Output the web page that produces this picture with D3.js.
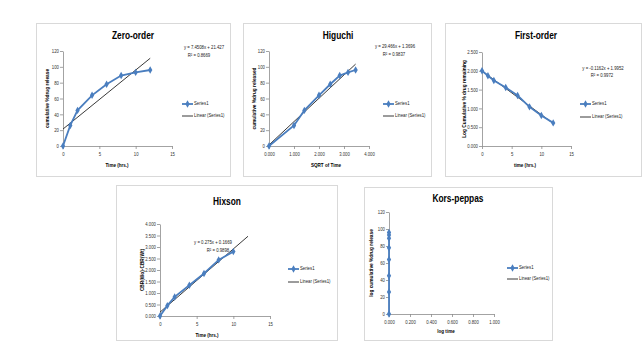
<!DOCTYPE html>
<html>
<head>
<meta charset="utf-8">
<script src="https://cdn.jsdelivr.net/npm/d3@7"></script>
<style>
  body { margin: 0; background: #fff; }
  svg { display: block; font-family: "Liberation Sans", Arial, sans-serif; }
</style>
</head>
<body>
<svg id="chart" width="642" height="351"></svg>
<script>
// data
const timeHrs = [0, 1, 2, 4, 6, 8, 10, 12];
const releasePct = [0, 26, 45, 64, 78, 89, 93, 96];
const sqrtTime = [0, 1, 1.414, 2, 2.449, 2.828, 3.162, 3.464];
const logRemaining = [2.000, 1.870, 1.740, 1.556, 1.342, 1.041, 0.810, 0.615];
const hixsonTime = [0, 1, 2, 4, 6, 8, 10];
const hixsonCbr = [0, 0.45, 0.83, 1.34, 1.85, 2.44, 2.80];
const logTime = [0, 0, 0, 0, 0, 0, 0, 0];
const korsRelease = [0, 26, 45, 64, 78, 89, 93, 96];

// trend lines as printed: [slope, intercept, x end]
const zeroFit = [7.4508, 21.427, 12];
const higuchiFit = [29.466, 1.3696, 3.464];
const firstFit = [-0.1162, 1.9952, 12];
const hixsonFit = [0.275, 0.1669, 12];

const ticksPct = [0, 20, 40, 60, 80, 100, 120];
const ticksTime = [0, 5, 10, 15];
const ticksSqrt = [0, 1, 2, 3, 4];
const ticksLog = [0, 0.5, 1, 1.5, 2, 2.5];
const ticksHix = [0, 0.5, 1, 1.5, 2, 2.5, 3, 3.5, 4];
const ticksLogTime = [0, 0.2, 0.4, 0.6, 0.8, 1];

const svg = d3.select('#chart');
const blue = '#4a7ebf';
const narrow = 0.78; // squeeze Liberation Sans toward Calibri widths

// text squeezed horizontally, like the narrow office font
function label(g, x, y, s, size, opts) {
    opts = opts || {};
    const rot = opts.rotate ? ' rotate(-90)' : '';
    return g.append('text')
        .attr('transform', `translate(${x},${y})${rot} scale(${opts.sx || narrow},1)`)
        .attr('text-anchor', opts.anchor || 'middle')
        .attr('dominant-baseline', 'middle')
        .attr('font-size', size)
        .attr('font-weight', opts.bold ? 'bold' : 'normal')
        .attr('fill', opts.fill || '#222')
        .text(s);
}

function panel(cfg) {
    const g = svg.append('g');

    g.append('rect')
        .attr('x', cfg.box[0] + 0.5).attr('y', cfg.box[1] + 0.5)
        .attr('width', cfg.box[2] - cfg.box[0]).attr('height', cfg.box[3] - cfg.box[1])
        .attr('fill', '#fff').attr('stroke', '#d9d9d9');

    const xs = d3.scaleLinear().domain(d3.extent(cfg.xticks)).range(cfg.xr);
    const ys = d3.scaleLinear().domain(d3.extent(cfg.yticks)).range(cfg.yr);

    const xaxis = d3.axisBottom(xs).tickValues(cfg.xticks).tickFormat(cfg.xfmt)
        .tickSizeInner(3).tickSizeOuter(0).tickPadding(3);
    const yaxis = d3.axisLeft(ys).tickValues(cfg.yticks).tickFormat(cfg.yfmt)
        .tickSizeInner(3).tickSizeOuter(0).tickPadding(2);

    const xg = g.append('g').attr('transform', `translate(0,${cfg.yr[0]})`).call(xaxis);
    const yg = g.append('g').attr('transform', `translate(${cfg.xr[0]},0)`).call(yaxis);
    [xg, yg].forEach(a => {
        a.selectAll('path, line').attr('stroke', '#8c8c8c').attr('stroke-width', 0.8);
        a.selectAll('text').attr('font-size', 5.2).attr('fill', '#333')
            .attr('font-family', 'inherit')
            .attr('transform', 'scale(0.82,1)');
    });

    if (cfg.fit) {
        const f = cfg.fit;
        g.append('line')
            .attr('x1', xs(0)).attr('y1', ys(f[1]))
            .attr('x2', xs(f[2])).attr('y2', ys(f[0] * f[2] + f[1]))
            .attr('stroke', '#222').attr('stroke-width', 0.9);
    }

    const pts = cfg.x.map((v, i) => [v, cfg.y[i]]);
    g.append('path')
        .attr('d', d3.line().x(d => xs(d[0])).y(d => ys(d[1]))(pts))
        .attr('fill', 'none').attr('stroke', blue).attr('stroke-width', 1.8);
    g.selectAll('path.mk').data(pts).join('path')
        .attr('class', 'mk')
        .attr('d', d3.symbol(d3.symbolDiamond, 16))
        .attr('transform', d => `translate(${xs(d[0])},${ys(d[1])})`)
        .attr('fill', blue);

    label(g, cfg.title[1], cfg.title[2], cfg.title[0], 11, { bold: true, fill: '#000', sx: 0.76 });

    const ymid = (cfg.yr[0] + cfg.yr[1]) / 2;
    label(g, cfg.ylab[1], ymid, cfg.ylab[0], 6, { bold: true, fill: '#000', rotate: true, sx: 0.8 });
    label(g, cfg.xlab[1], cfg.xlab[2], cfg.xlab[0], 6, { bold: true, fill: '#000', sx: 0.76 });

    if (cfg.eq) {
        label(g, cfg.eq[1], cfg.eq[2], cfg.eq[0], 5.5);
        label(g, cfg.r2[1], cfg.r2[2], cfg.r2[0], 5.5);
    }

    // legend
    const lx = cfg.leg[0];
    g.append('line').attr('x1', lx).attr('x2', lx + 11)
        .attr('y1', cfg.leg[1]).attr('y2', cfg.leg[1])
        .attr('stroke', blue).attr('stroke-width', 1.8);
    g.append('path').attr('d', d3.symbol(d3.symbolDiamond, 16))
        .attr('transform', `translate(${lx + 5.5},${cfg.leg[1]})`).attr('fill', blue);
    g.append('line').attr('x1', lx).attr('x2', lx + 11)
        .attr('y1', cfg.leg[2]).attr('y2', cfg.leg[2])
        .attr('stroke', '#222').attr('stroke-width', 0.9);
    label(g, lx + 12, cfg.leg[1], 'Series1', 5.5, { anchor: 'start' });
    label(g, lx + 12, cfg.leg[2], 'Linear (Series1)', 5.5, { anchor: 'start' });
}

const f0 = d3.format('d');
const f3 = d3.format('.3f');

panel({
    box: [36, 23, 230, 176], xr: [63, 172], yr: [146, 51],
    x: timeHrs, y: releasePct, xticks: ticksTime, yticks: ticksPct, xfmt: f0, yfmt: f0,
    fit: zeroFit, title: ['Zero-order', 133, 36],
    ylab: ['cumulative %drug release', 47], xlab: ['Time (hrs.)', 117, 165],
    eq: ['y = 7.4508x + 21.427', 204, 48], r2: ['R² = 0.8669', 199, 56],
    leg: [182, 104, 116]
});

panel({
    box: [243, 23, 431, 176], xr: [269, 369], yr: [146, 51],
    x: sqrtTime, y: releasePct, xticks: ticksSqrt, yticks: ticksPct, xfmt: f3, yfmt: f0,
    fit: higuchiFit, title: ['Higuchi', 338, 36],
    ylab: ['cumulative %drug released', 254], xlab: ['SQRT of Time', 326, 165],
    eq: ['y = 29.466x + 1.3696', 395, 47], r2: ['R² = 0.9837', 394, 55],
    leg: [383, 104, 116]
});

panel({
    box: [445, 23, 641, 176], xr: [482, 571], yr: [146, 52],
    x: timeHrs, y: logRemaining, xticks: ticksTime, yticks: ticksLog, xfmt: f0, yfmt: f3,
    fit: firstFit, title: ['First-order', 536, 36],
    ylab: ['Log Cumulative % drug remaining', 464], xlab: ['time (hrs.)', 525, 165],
    eq: ['y = -0.1162x + 1.9952', 603, 69], r2: ['R² = 0.9972', 602, 76],
    leg: [580, 104, 117]
});

panel({
    box: [116, 185, 337, 340], xr: [160, 270], yr: [316, 224],
    x: hixsonTime, y: hixsonCbr, xticks: ticksTime, yticks: ticksHix, xfmt: f0, yfmt: f3,
    fit: hixsonFit, title: ['Hixson', 227, 202],
    ylab: ['CBR(Wo)-CBR(Wt)', 142], xlab: ['Time (hrs.)', 207, 335],
    eq: ['y = 0.275x + 0.1669', 213, 243], r2: ['R² = 0.9898', 218, 251],
    leg: [288, 269, 282]
});

panel({
    box: [364, 187, 552, 340], xr: [389, 494], yr: [314, 212],
    x: logTime, y: korsRelease, xticks: ticksLogTime, yticks: ticksPct, xfmt: f3, yfmt: f0,
    fit: null, title: ['Kors-peppas', 458, 199],
    ylab: ['log cumulative %drug release', 371], xlab: ['log time', 446, 331],
    leg: [507, 268, 279]
});
</script>
</body>
</html>
